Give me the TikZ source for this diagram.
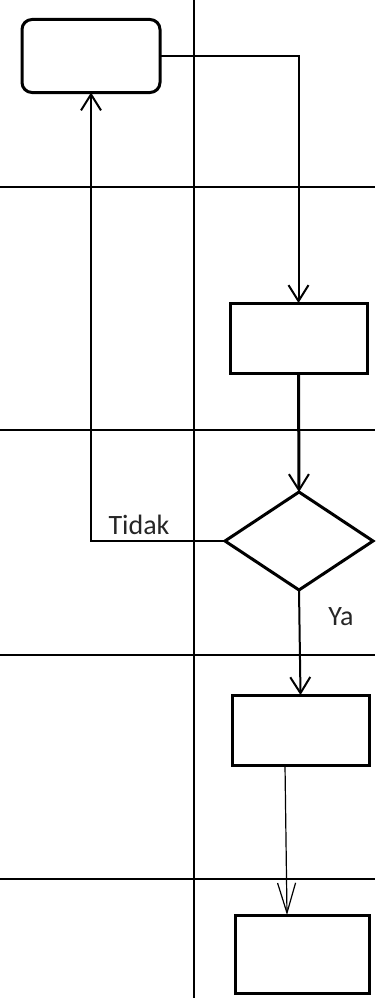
\documentclass[tikz,border=0pt]{standalone}
\usepackage{fontspec}
\setmainfont{Carlito}
\usetikzlibrary{shapes.geometric,arrows.meta}
\begin{document}
\begin{tikzpicture}[x=1pt,y=-1pt,
  lane/.style={line width=2pt},
  term/.style={draw,line width=3pt,rounded corners=10pt,minimum width=138pt,minimum height=73pt,inner sep=0pt,outer sep=0pt},
  proc/.style={draw,line width=3pt,minimum width=137pt,minimum height=70pt,inner sep=0pt,outer sep=0pt},
  decide/.style={draw,diamond,line width=3pt,minimum width=148pt,minimum height=98pt,inner sep=0pt,outer sep=0pt},
  flow/.style={line width=2pt,-{Straight Barb[length=16pt,width=20pt,line width=2pt]}},
  lbl/.style={font=\fontsize{28pt}{30pt}\selectfont,text=black!85,inner sep=0pt}]
  \useasboundingbox (0,0) rectangle (375,998);
  % swimlanes
  \draw[lane] (194,0)--(194,998);
  \draw[lane] (0,187)--(375,187) (0,430)--(375,430) (0,655)--(375,655) (0,879)--(375,879);
  % shapes
  \node[term] (start) at (91,56) {};
  \node[proc] (p1) at (298.5,338) {};
  \node[decide] (cek) at (299,541) {};
  \node[proc] (p2) at (300.5,730) {};
  \node[proc,minimum width=134pt,minimum height=78pt] (p3) at (302,954) {};
  % connectors
  \draw[flow] (start.east) -| (p1.north);
  \draw[flow,line width=3pt] (p1.south) -- (cek.north);
  \draw[flow] (cek.west) -| (start.south);
  \draw[flow] (cek.south) -- (p2.north);
  \draw[line width=1.2pt,-{Straight Barb[length=30pt,width=18pt,line width=1.2pt]}] ([xshift=-15.5pt]p2.south) -- ([xshift=-15pt]p3.north);
  \node[lbl] (tidak) at (139,525) {Tidak};
  \node[lbl] (ya) at (341,617) {Ya};
\end{tikzpicture}
\end{document}
